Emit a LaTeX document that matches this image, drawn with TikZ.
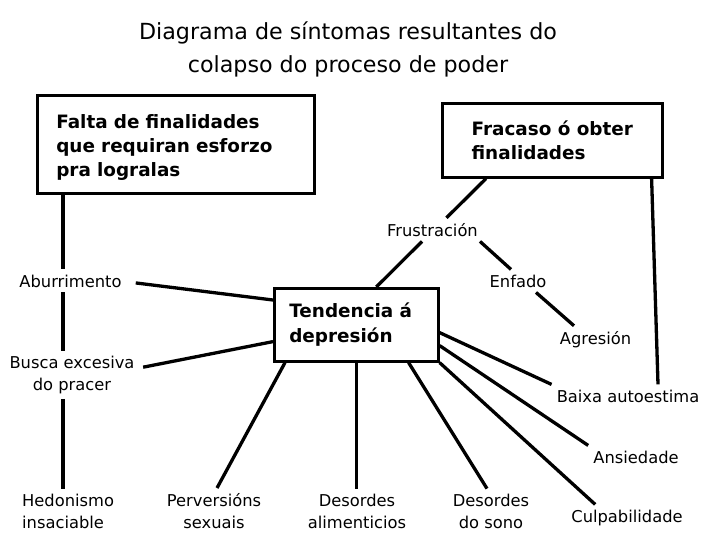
\documentclass[tikz,border=0pt]{standalone}
\usepackage{fontspec}
\setmainfont{DejaVu Sans}
\newcommand\mybody{\fontsize{16.3}{22}\selectfont}
\newcommand\mybold{\fontsize{18.4}{24}\selectfont\bfseries}
\newcommand\mytendfont{\fontsize{18.4}{25}\selectfont\bfseries}
\newcommand\mytitle{\fontsize{22.2}{33}\selectfont}
\begin{document}
\begin{tikzpicture}[x=1pt,y=-1pt,
  box/.style={draw, line width=2.6pt, inner sep=0pt, font=\mybold},
  lbl/.style={inner sep=5pt, font=\mybody},
  con/.style={line width=3.3pt}]
\useasboundingbox (0,0) rectangle (708,552);

% title
\node[inner sep=0pt, font=\mytitle, align=center, anchor=north] (title) at (348,21.4)
  {Diagrama de síntomas resultantes do\\colapso do proceso de poder};

% boxes
\node[box, anchor=north west, minimum height=98pt, text width=239pt, inner xsep=19pt, align=left] (fim) at (36,94)
  {\rule{0pt}{21pt}Falta de finalidades\\que requiran esforzo\\pra logralas};
\node[box, anchor=north west, minimum width=220pt, minimum height=74pt, align=left] (fra) at (441,102)
  {Fracaso ó obter\\finalidades};
\node[box, anchor=north west, minimum height=73pt, text width=134pt, inner xsep=15pt, align=left, font=\mytendfont] (tend) at (273,287)
  {Tendencia á\\depresión};

\coordinate (spine) at ([xshift=27pt]fim.south west);

% labels
\node[lbl, anchor=base] (abur) at (70.5,287) {Aburrimento};
\node[lbl, anchor=north, align=center] (busca) at (72,350.6) {Busca excesiva\\do pracer};
\node[lbl, anchor=north west, align=left] (hedo) at (17,488.6) {Hedonismo\\insaciable};
\node[lbl, anchor=north, align=center] (perv) at (214,488) {Perversións\\sexuais};
\node[lbl, anchor=north, align=center] (dali) at (357,488.6) {Desordes\\alimenticios};
\node[lbl, anchor=north, align=center] (dsono) at (491,488.6) {Desordes\\do sono};
\node[lbl, anchor=base] (culp) at (627,522) {Culpabilidade};
\node[lbl, anchor=base] (ansi) at (636,463) {Ansiedade};
\node[lbl, anchor=base] (baixa) at (628,402) {Baixa autoestima};
\node[lbl, anchor=base] (agre) at (595.5,344) {Agresión};
\node[lbl, anchor=base] (enfa) at (518,287) {Enfado};
\node[lbl, anchor=base] (frus) at (432.5,236) {Frustración};

% connectors
\draw[con] (spine) -- (spine |- abur.north);
\draw[con] (spine |- abur.south) -- (spine |- busca.north);
\draw[con] (spine |- busca.south) -- (spine |- hedo.north);
\draw[con] ([xshift=9pt,yshift=-2pt]abur.east) -- ([yshift=-13pt]tend.north west);
\draw[con] ([shift={(3.5pt,7.5pt)}]busca.east) -- ([yshift=21pt]tend.south west);
\draw[con] ([xshift=3pt]perv.north) -- ([xshift=12pt]tend.south west);
\draw[con] (tend.south) -- (tend.south |- dali.north);
\draw[con] ([xshift=-4pt]dsono.north) -- ([xshift=-31pt]tend.south east);
\draw[con] ([xshift=29pt]culp.north west) -- (tend.south east);
\draw[con] (ansi.north west) -- ([yshift=17pt]tend.south east);
\draw[con] (baixa.north west) -- ([yshift=30pt]tend.south east);
\draw[con] ([xshift=-12pt]fra.south east) -- ([xshift=30pt]baixa.north);
\draw[con] ([xshift=45pt]fra.south west) -- ([xshift=14pt]frus.north);
\draw[con] ([xshift=-10.5pt]frus.south) -- ([xshift=20pt]tend.north);
\draw[con] ([xshift=-3pt]frus.south east) -- ([xshift=-7pt]enfa.north);
\draw[con] ([xshift=18pt]enfa.south) -- ([xshift=-21.5pt]agre.north);
\end{tikzpicture}
\end{document}
